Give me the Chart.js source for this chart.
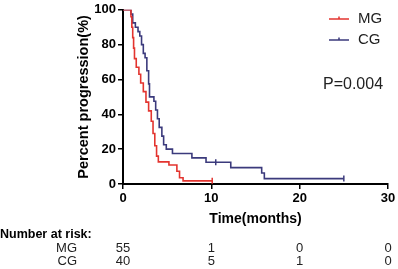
<!DOCTYPE html>
<html>
<head>
<meta charset="utf-8">
<script src="https://cdn.jsdelivr.net/npm/chart.js@4.4.0/dist/chart.umd.min.js"></script>
<style>
  html, body { margin: 0; padding: 0; background: #fff; }
  canvas { display: block; }
</style>
</head>
<body>
<canvas id="km" width="398" height="269"></canvas>
<script>
// curvas de Kaplan-Meier
const mgTimes = [0, 0.9, 1.0, 1.1, 1.2, 1.3, 1.5, 1.8, 2.0, 2.3, 2.6, 2.9, 3.2, 3.4, 3.6, 3.8, 4.0, 5.2, 6.1, 6.4, 6.8, 10.1];
const mgSurv  = [100, 96, 90, 84, 78, 72, 67, 63, 58, 53, 47, 42, 36, 29, 22, 16, 12.7, 10.9, 7.3, 3.6, 1.8, 1.8];
const cgTimes = [0, 0.9, 1.1, 1.4, 1.7, 1.9, 2.1, 2.3, 2.5, 2.7, 2.9, 3.0, 3.5, 3.7, 3.9, 4.1, 4.4, 4.6, 4.9, 5.6, 7.8, 9.4, 12.2, 15.7, 16.0, 25.0];
const cgSurv  = [100, 97.5, 92.5, 90, 87.5, 85, 80, 75, 72.5, 65, 57.5, 50, 47.5, 42.5, 37.5, 32.5, 27.5, 22.5, 20, 17.5, 15, 12.5, 9.4, 6.3, 3.1, 3.1];

// censurados
const mgCensT = [10.1];
const mgCensS = [1.8];
const cgCensT = [10.5, 25.0];
const cgCensS = [12.5, 3.1];

// tabla de pacientes en riesgo
const riskTimes = [0, 10, 20, 30];
const mgRisk = [55, 1, 0, 0];
const cgRisk = [40, 5, 1, 0];

const rojo = "#e3342f";
const azul = "#3b3a7c";
const fuente = "Arial, 'Liberation Sans', sans-serif";

const pts = (t, s) => t.map((x, i) => ({ x: x, y: s[i] }));

const extras = {
	id: "extras",
	afterDraw(chart) {
		const ctx = chart.ctx;
		const xs = chart.scales.x;
		ctx.save();
		ctx.fillStyle = "#000";
		ctx.textBaseline = "middle";

		// leyenda
		const items = [["MG", rojo, 19], ["CG", azul, 40]];
		items.forEach(([txt, col, y]) => {
			ctx.strokeStyle = col;
			ctx.lineWidth = 1.5;
			ctx.beginPath();
			ctx.moveTo(329, y); ctx.lineTo(349, y);
			ctx.moveTo(339, y - 2.5); ctx.lineTo(339, y);
			ctx.stroke();
			ctx.fillStyle = "#222";
			ctx.font = "15px " + fuente;
			ctx.textAlign = "left";
			ctx.fillText(txt, 358, y);
		});

		ctx.font = "16px " + fuente;
		ctx.fillStyle = "#222";
		ctx.fillText("P=0.004", 323, 85);

		// números en riesgo
		ctx.fillStyle = "#000";
		ctx.font = "bold 12.5px " + fuente;
		ctx.textAlign = "left";
		ctx.fillText("Number at risk:", 0, 235);
		ctx.font = "13px " + fuente;
		ctx.fillStyle = "#222";
		ctx.textAlign = "right";
		ctx.fillText("MG", 77, 248);
		ctx.fillText("CG", 77, 261);
		ctx.textAlign = "center";
		riskTimes.forEach((t, i) => {
			const px = xs.getPixelForValue(t);
			ctx.fillText(String(mgRisk[i]), px, 248);
			ctx.fillText(String(cgRisk[i]), px, 261);
		});
		ctx.restore();
	}
};

const ctx = document.getElementById("km").getContext("2d");
new Chart(ctx, {
	type: "line",
	data: {
		datasets: [
			{ label: "MG", data: pts(mgTimes, mgSurv), borderColor: rojo, borderWidth: 1.6, stepped: "before", pointRadius: 0, fill: false },
			{ label: "CG", data: pts(cgTimes, cgSurv), borderColor: azul, borderWidth: 1.6, stepped: "before", pointRadius: 0, fill: false },
			{ type: "scatter", data: pts(mgCensT, mgCensS), pointStyle: "line", rotation: 90, radius: 3, borderColor: rojo, borderWidth: 1.5 },
			{ type: "scatter", data: pts(cgCensT, cgCensS), pointStyle: "line", rotation: 90, radius: 3, borderColor: azul, borderWidth: 1.5 }
		]
	},
	options: {
		responsive: false,
		animation: false,
		layout: { padding: { left: 0, top: 7, right: 10, bottom: 40 } },
		plugins: { legend: { display: false }, tooltip: { enabled: false } },
		scales: {
			x: {
				type: "linear",
				min: 0, max: 30,
				ticks: { stepSize: 10, color: "#000", padding: 2, font: { family: fuente, size: 13, weight: "bold" } },
				grid: { drawOnChartArea: false, drawTicks: true, tickLength: 5, color: "#000", lineWidth: 1.5 },
				border: { color: "#000", width: 2 },
				title: { display: true, text: "Time(months)", color: "#000", padding: { top: 0, bottom: 1 }, font: { family: fuente, size: 14, weight: "bold" } },
				afterFit: s => { s.height = 45; }
			},
			y: {
				min: 0, max: 100,
				ticks: { stepSize: 20, color: "#000", padding: 2, font: { family: fuente, size: 13, weight: "bold" } },
				grid: { drawOnChartArea: false, drawTicks: true, tickLength: 5, color: "#000", lineWidth: 1.5 },
				border: { color: "#000", width: 2 },
				title: { display: true, text: "Percent progression(%)", color: "#000", padding: { top: 75, bottom: 0 }, font: { family: fuente, size: 14.5, weight: "bold" } },
				afterFit: s => { s.width = 123; }
			}
		}
	},
	plugins: [extras]
});
</script>
</body>
</html>
